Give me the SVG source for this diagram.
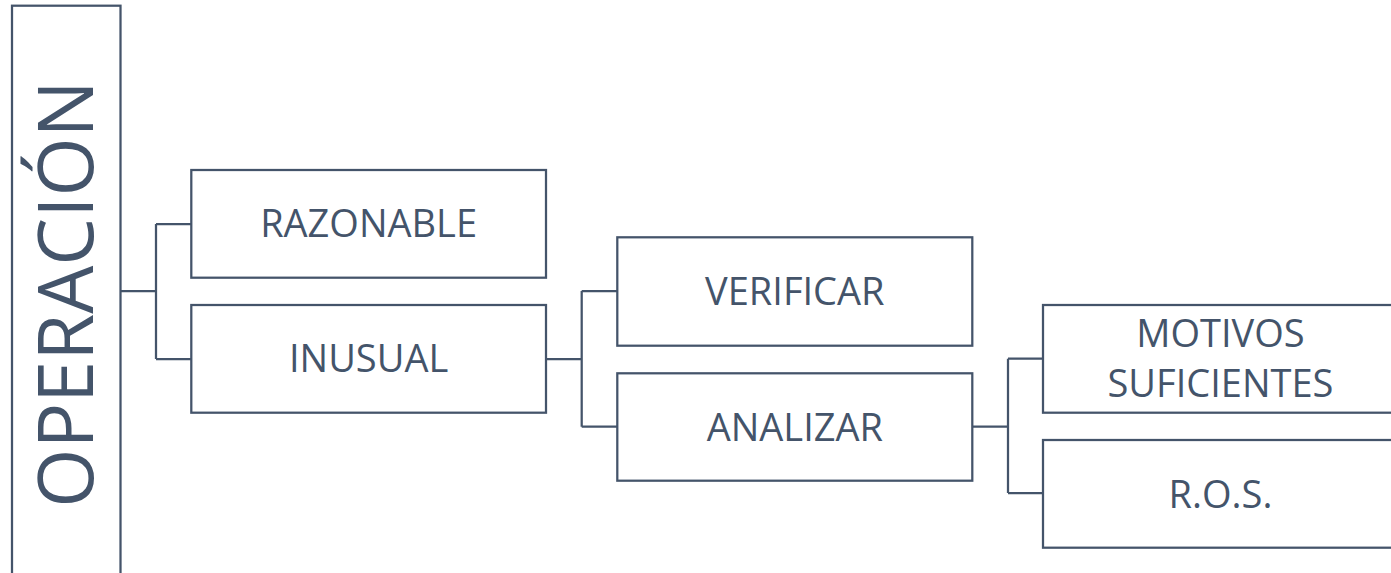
<svg xmlns="http://www.w3.org/2000/svg" width="1391" height="573" viewBox="0 0 1391 573">
  <style>
    .box { fill: #ffffff; stroke: #44546A; stroke-width: 2.25; }
    .lbl { font-family: "Open Sans", "Liberation Sans", sans-serif; font-size: 38px; fill: #44546A; text-anchor: middle; }
    .title { font-family: "Open Sans", "Liberation Sans", sans-serif; font-size: 76px; fill: #44546A; text-anchor: middle; }
    .wire { fill: none; stroke: #44546A; stroke-width: 2.25; }
  </style>
  <rect width="1391" height="573" fill="#ffffff"/>

  <!-- bracket connectors -->
  <g id="connectors">
    <path class="wire" d="M120.5 291 H156 M156 224 V359 M156 224 H191.3 M156 359 H191.3"/>
    <path class="wire" d="M546 359 H581.7 M581.7 291 V426.7 M581.7 291 H617.3 M581.7 426.7 H617.3"/>
    <path class="wire" d="M972.3 426.7 H1008 M1008 358.7 V493 M1008 358.7 H1043 M1008 493 H1043"/>
  </g>

  <g id="operacion">
    <rect class="box" x="12" y="5.7" width="108.5" height="600"/>
    <text class="title" transform="translate(92.5 294) rotate(-90)">OPERACIÓN</text>
  </g>

  <g id="razonable">
    <rect class="box" x="191.3" y="170" width="354.7" height="107.7"/>
    <text class="lbl" x="368.6" y="237">RAZONABLE</text>
  </g>

  <g id="inusual">
    <rect class="box" x="191.3" y="305" width="354.7" height="107.7"/>
    <text class="lbl" x="368.6" y="372">INUSUAL</text>
  </g>

  <g id="verificar">
    <rect class="box" x="617.3" y="237.3" width="355" height="108.4"/>
    <text class="lbl" x="794.8" y="305">VERIFICAR</text>
  </g>

  <g id="analizar">
    <rect class="box" x="617.3" y="373.3" width="355" height="107.4"/>
    <text class="lbl" x="794.8" y="440.5">ANALIZAR</text>
  </g>

  <g id="motivos">
    <rect class="box" x="1043" y="305" width="355" height="107.7"/>
    <text class="lbl" x="1220.5" y="347">MOTIVOS</text>
    <text class="lbl" x="1220.5" y="397">SUFICIENTES</text>
  </g>

  <g id="ros">
    <rect class="box" x="1043" y="440" width="355" height="107.7"/>
    <text class="lbl" x="1220.5" y="507.5">R.O.S.</text>
  </g>
</svg>
